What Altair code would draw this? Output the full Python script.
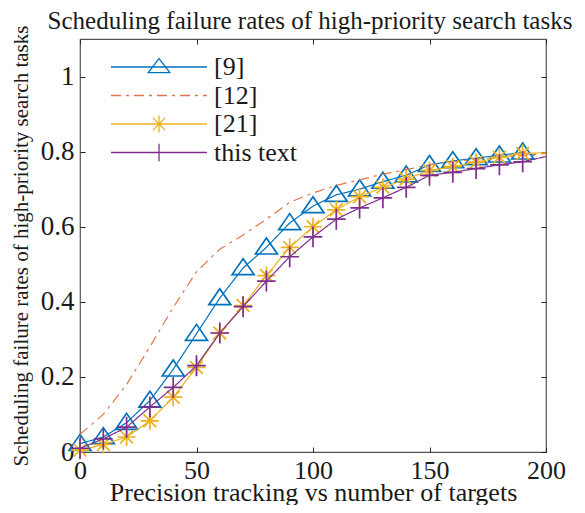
import altair as alt
import pandas as pd

# ---------------- data ----------------
series_names = ["[9]", "[12]", "[21]", "this text"]

x_9 = [0, 10, 20, 30, 40, 50, 60, 70, 80, 90, 100, 110, 120, 130, 140, 150, 160, 170, 180, 190, 195]
y_9 = [0.022, 0.04, 0.078, 0.137, 0.22, 0.315, 0.41, 0.49, 0.545, 0.61, 0.655, 0.685, 0.70, 0.72,
       0.737, 0.765, 0.775, 0.783, 0.79, 0.798, 0.79]

x_12 = [0, 10, 20, 30, 40, 50, 60, 70, 80, 90, 100, 110, 120, 130, 140, 150, 160, 170, 180, 190, 200]
y_12 = [0.047, 0.10, 0.18, 0.28, 0.385, 0.48, 0.54, 0.578, 0.62, 0.665, 0.69, 0.71, 0.725, 0.74,
        0.752, 0.765, 0.773, 0.78, 0.785, 0.79, 0.795]

x_21 = [0, 10, 20, 30, 40, 50, 60, 70, 80, 90, 100, 110, 120, 130, 140, 150, 160, 170, 180, 190, 200]
y_21 = [0.005, 0.02, 0.04, 0.083, 0.146, 0.225, 0.317, 0.39, 0.47, 0.545, 0.60, 0.645, 0.68, 0.705,
        0.727, 0.75, 0.76, 0.772, 0.785, 0.795, 0.797]

x_this = [0, 10, 20, 30, 40, 50, 60, 70, 80, 90, 100, 110, 120, 130, 140, 150, 160, 170, 180, 190, 200]
y_this = [0.01, 0.035, 0.066, 0.12, 0.172, 0.23, 0.317, 0.387, 0.455, 0.52, 0.573, 0.62, 0.65, 0.677,
          0.705, 0.737, 0.745, 0.755, 0.765, 0.773, 0.787]

marker_last_x = 190  # markers drawn every 10 up to this x

x_ticks = [0, 50, 100, 150, 200]
y_ticks = [0, 0.2, 0.4, 0.6, 0.8, 1.0]

# ---------------- styling ----------------
FONT = "Liberation Serif"
TXT = "#1a1a1a"
colors = ["#0072BD", "#E2764A", "#EDB120", "#7E2F8E"]
dashes = [[1, 0], [10, 5, 3, 5], [1, 0], [1, 0]]
plot_markers = [
    "M0,-0.85L1,0.6L-1,0.6Z",
    None,
    "M0,-0.82V0.82M-0.82,0H0.82M-0.58,-0.58L0.58,0.58M-0.58,0.58L0.58,-0.58",
    "M0,-0.95V0.95M-0.85,0H0.85",
]
legend_paths = [
    "M-12,0H12M0,-2.1L2.7,1.4L-2.7,1.4Z",
    "M-12,0H12",
    "M-12,0H12M0,-2.1V2.1M-2.1,0H2.1M-1.5,-1.5L1.5,1.5M-1.5,1.5L1.5,-1.5",
    "M-12,0H12M0,-2.2V2.2M-2,0H2",
]

rows = []
for name, xs, ys in zip(series_names, [x_9, x_12, x_21, x_this], [y_9, y_12, y_21, y_this]):
    for xv, yv in zip(xs, ys):
        rows.append({"series": name, "x": xv, "y": yv})
df = pd.DataFrame(rows)

xs_scale = alt.Scale(domain=[0, 200], nice=False, zero=False)
ys_scale = alt.Scale(domain=[0, 1.1], nice=False, zero=False)

axis_common = dict(
    domain=False, grid=False, tickSize=5, offset=-5, tickColor="#262626", tickWidth=1,
    labelFont=FONT, labelColor=TXT, labelFlush=False, labelOverlap=False,
    titleFont=FONT, titleFontWeight="normal", titleColor=TXT,
)

x_axis = alt.Axis(orient="bottom", values=x_ticks, format="d", labelPadding=5, labelFontSize=26,
                  title="Precision tracking vs number of targets", titleFontSize=26,
                  titlePadding=-4, **axis_common)
y_axis = alt.Axis(orient="left", values=y_ticks, format="~g", labelPadding=6, labelFontSize=27,
                  title="Scheduling failure rates of high-priority search tasks",
                  titleFontSize=21, titlePadding=9, **axis_common)
x_axis_top = alt.Axis(orient="top", values=x_ticks, labels=False, title=None,
                      domain=False, grid=False, tickSize=5, offset=-5, tickColor="#262626")
y_axis_right = alt.Axis(orient="right", values=y_ticks, labels=False, title=None,
                        domain=False, grid=False, tickSize=5, offset=-5, tickColor="#262626")

base = alt.Chart(df)
layers = []

# axes carriers
layers.append(base.mark_point(size=0, opacity=0).encode(
    x=alt.X("x:Q", scale=xs_scale, axis=x_axis),
    y=alt.Y("y:Q", scale=ys_scale, axis=y_axis)))
layers.append(base.mark_point(size=0, opacity=0).encode(
    x=alt.X("x:Q", scale=xs_scale, axis=x_axis_top),
    y=alt.Y("y:Q", scale=ys_scale, axis=y_axis_right)))

for name, col, dash, mk in zip(series_names, colors, dashes, plot_markers):
    sub = base.transform_filter(alt.datum.series == name)
    layers.append(sub.mark_line(color=col, strokeWidth=1.2, strokeDash=dash, clip=True).encode(
        x=alt.X("x:Q", scale=xs_scale, axis=None),
        y=alt.Y("y:Q", scale=ys_scale, axis=None),
        order="x:Q"))
    if mk is not None:
        layers.append(sub.transform_filter(alt.datum.x <= marker_last_x).mark_point(
            shape=mk, size=484, filled=False, color=col, strokeWidth=1.7, opacity=1).encode(
            x=alt.X("x:Q", scale=xs_scale, axis=None),
            y=alt.Y("y:Q", scale=ys_scale, axis=None)))

# legend carrier (invisible marks, legend symbols from shape scale)
legend = alt.Legend(
    title=None, orient="none", legendX=66, legendY=15,
    labelFont=FONT, labelFontSize=26, labelColor=TXT, labelOffset=42,
    symbolSize=64, symbolStrokeWidth=1.3, symbolOpacity=1, rowPadding=2.5,
    symbolFillColor="transparent")
layers.append(base.mark_point(size=0, filled=False, clip=True).encode(
    x=alt.X("x:Q", scale=xs_scale, axis=None),
    y=alt.Y("y:Q", scale=ys_scale, axis=None),
    color=alt.Color("series:N", scale=alt.Scale(domain=series_names, range=colors), legend=legend),
    shape=alt.Shape("series:N", scale=alt.Scale(domain=series_names, range=legend_paths), legend=legend),
    strokeDash=alt.StrokeDash("series:N", scale=alt.Scale(domain=series_names, range=dashes), legend=legend),
))

chart = alt.layer(*layers).resolve_axis(x="independent", y="independent").properties(
    width=466, height=413,
    autosize=alt.AutoSizeParams(type="none"),
    padding={"left": 72, "top": 31, "right": 30, "bottom": 53},
    title=alt.TitleParams(
        "Scheduling failure rates of high-priority search tasks",
        font=FONT, fontSize=25, fontWeight="normal", color=TXT,
        anchor="middle", frame="group", offset=4, dy=12.5, dx=-3),
).configure(
    background="white", font=FONT,
    view=alt.ViewConfig(stroke="#555555", strokeWidth=1.2),
)

chart.save("out.html", embed_options={"renderer": "svg", "actions": False})
